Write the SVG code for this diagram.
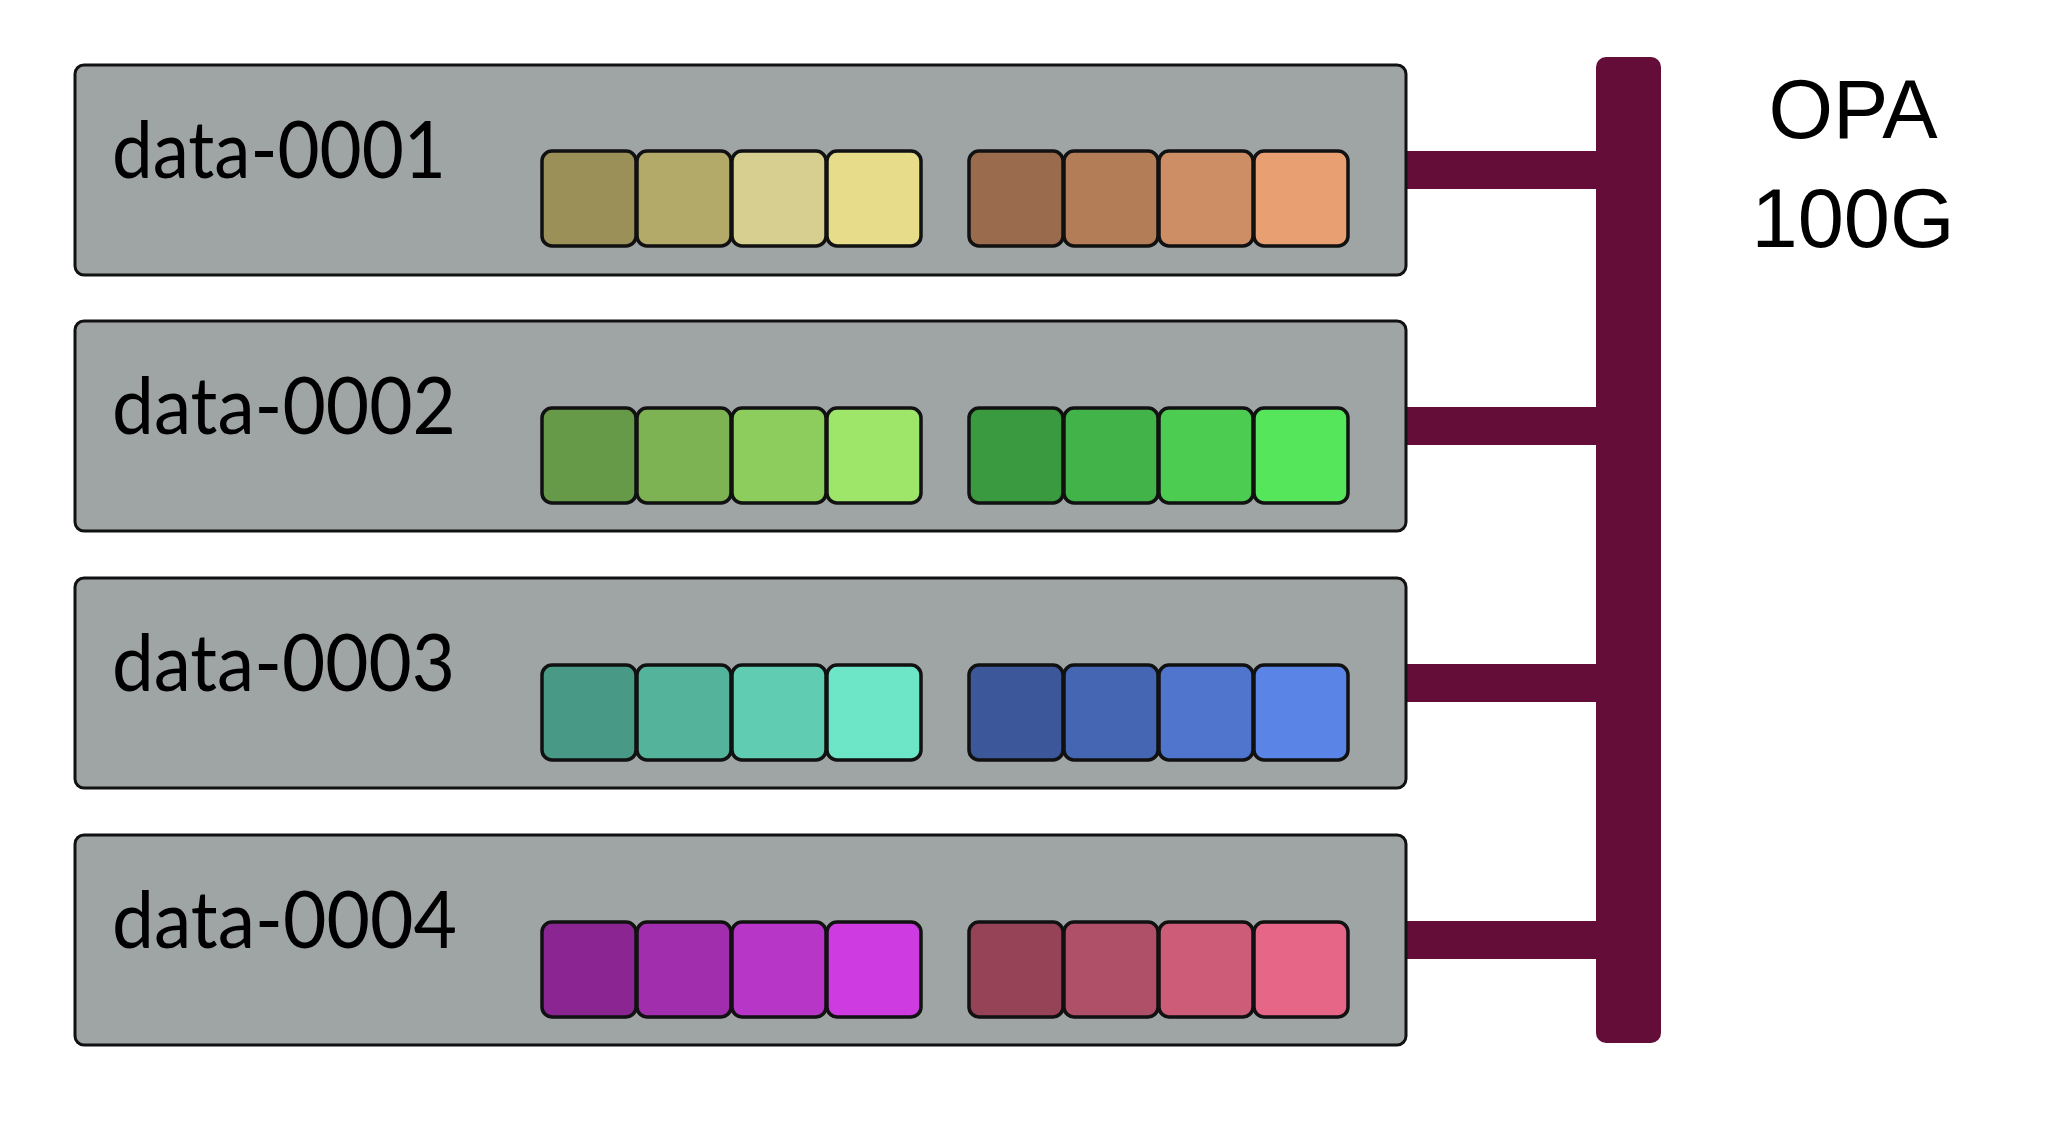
<svg xmlns="http://www.w3.org/2000/svg" width="2072" height="1140" viewBox="0 0 2072 1140">
<style>
.node{fill:#9fa4a4;stroke:#111;stroke-width:3}
.sq{stroke:#111;stroke-width:3.5}
.lbl{font-family:Lato,"DejaVu Sans",sans-serif;font-size:80px;fill:#000}
.opa{font-family:"Liberation Sans",Arial,sans-serif;font-size:83px;fill:#000;text-anchor:middle}
.bar{fill:#640d39}
</style>
<rect width="2072" height="1140" fill="#fff"/>
<g id="connectors">
<rect class="bar" x="1405" y="151" width="195" height="38"/>
<rect class="bar" x="1405" y="407" width="195" height="38"/>
<rect class="bar" x="1405" y="664" width="195" height="38"/>
<rect class="bar" x="1405" y="921" width="195" height="38"/>
</g>
<g id="bus">
<rect class="bar" x="1596" y="57" width="65" height="986" rx="10"/>
<text class="opa" x="1853" y="138">OPA</text>
<text class="opa" x="1853" y="247">100G</text>
</g>
<g id="data-0001">
<rect class="node" x="75" y="65" width="1331" height="210" rx="9"/>
<text class="lbl" x="112" y="178" textLength="334" lengthAdjust="spacingAndGlyphs">data-0001</text>
<rect class="sq" x="542" y="151" width="94" height="95" rx="10" fill="#9a9058"/>
<rect class="sq" x="637" y="151" width="94" height="95" rx="10" fill="#b3aa6a"/>
<rect class="sq" x="732" y="151" width="94" height="95" rx="10" fill="#d7cf8f"/>
<rect class="sq" x="827" y="151" width="94" height="95" rx="10" fill="#e7dc8a"/>
<rect class="sq" x="969" y="151" width="94" height="95" rx="10" fill="#9a6b4d"/>
<rect class="sq" x="1064" y="151" width="94" height="95" rx="10" fill="#b37d58"/>
<rect class="sq" x="1159" y="151" width="94" height="95" rx="10" fill="#cd8e65"/>
<rect class="sq" x="1254" y="151" width="94" height="95" rx="10" fill="#e8a072"/>
</g>
<g id="data-0002">
<rect class="node" x="75" y="321" width="1331" height="210" rx="9"/>
<text class="lbl" x="112" y="434" textLength="344" lengthAdjust="spacingAndGlyphs">data-0002</text>
<rect class="sq" x="542" y="408" width="94" height="95" rx="10" fill="#679a48"/>
<rect class="sq" x="637" y="408" width="94" height="95" rx="10" fill="#7db352"/>
<rect class="sq" x="732" y="408" width="94" height="95" rx="10" fill="#8dcd5d"/>
<rect class="sq" x="827" y="408" width="94" height="95" rx="10" fill="#9de66a"/>
<rect class="sq" x="969" y="408" width="94" height="95" rx="10" fill="#399a3f"/>
<rect class="sq" x="1064" y="408" width="94" height="95" rx="10" fill="#42b348"/>
<rect class="sq" x="1159" y="408" width="94" height="95" rx="10" fill="#4ccd52"/>
<rect class="sq" x="1254" y="408" width="94" height="95" rx="10" fill="#55e65c"/>
</g>
<g id="data-0003">
<rect class="node" x="75" y="578" width="1331" height="210" rx="9"/>
<text class="lbl" x="112" y="691" textLength="343" lengthAdjust="spacingAndGlyphs">data-0003</text>
<rect class="sq" x="542" y="665" width="94" height="95" rx="10" fill="#489a86"/>
<rect class="sq" x="637" y="665" width="94" height="95" rx="10" fill="#54b39b"/>
<rect class="sq" x="732" y="665" width="94" height="95" rx="10" fill="#60cdb2"/>
<rect class="sq" x="827" y="665" width="94" height="95" rx="10" fill="#6de6c8"/>
<rect class="sq" x="969" y="665" width="94" height="95" rx="10" fill="#3c589a"/>
<rect class="sq" x="1064" y="665" width="94" height="95" rx="10" fill="#4566b3"/>
<rect class="sq" x="1159" y="665" width="94" height="95" rx="10" fill="#5075cd"/>
<rect class="sq" x="1254" y="665" width="94" height="95" rx="10" fill="#5a85e6"/>
</g>
<g id="data-0004">
<rect class="node" x="75" y="835" width="1331" height="210" rx="9"/>
<text class="lbl" x="112" y="948" textLength="345" lengthAdjust="spacingAndGlyphs">data-0004</text>
<rect class="sq" x="542" y="922" width="94" height="95" rx="10" fill="#8a2591"/>
<rect class="sq" x="637" y="922" width="94" height="95" rx="10" fill="#a02ead"/>
<rect class="sq" x="732" y="922" width="94" height="95" rx="10" fill="#b735c7"/>
<rect class="sq" x="827" y="922" width="94" height="95" rx="10" fill="#cd3be1"/>
<rect class="sq" x="969" y="922" width="94" height="95" rx="10" fill="#964358"/>
<rect class="sq" x="1064" y="922" width="94" height="95" rx="10" fill="#b05068"/>
<rect class="sq" x="1159" y="922" width="94" height="95" rx="10" fill="#cc5c77"/>
<rect class="sq" x="1254" y="922" width="94" height="95" rx="10" fill="#e56687"/>
</g>
</svg>
